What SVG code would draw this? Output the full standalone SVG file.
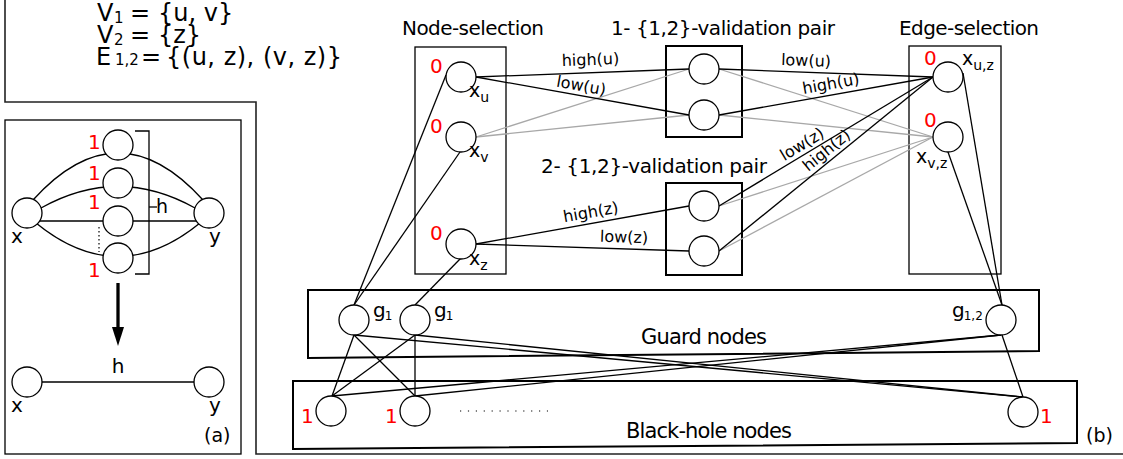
<svg xmlns="http://www.w3.org/2000/svg" width="1123" height="459" viewBox="0 0 1123 459">
<style>
.t{font-family:"DejaVu Sans",sans-serif;fill:#000}
.r{font-family:"DejaVu Sans",sans-serif;fill:#ff0000;font-size:20px}
.n{fill:#fff;stroke:#000;stroke-width:1.3}
.k{stroke:#000;stroke-width:1.3;fill:none}
.g{stroke:#a8a8a8;stroke-width:1.3;fill:none}
.b{fill:none;stroke:#000;stroke-width:1.3}
.bb{fill:none;stroke:#000;stroke-width:2}
.lab{font-family:"DejaVu Sans",sans-serif;font-size:16px;fill:#000}
.ti{font-family:"DejaVu Sans",sans-serif;font-size:20px;fill:#000}
.set{font-family:"DejaVu Sans",sans-serif;font-size:24px;fill:#000}
</style>
<rect width="1123" height="459" fill="#fff"/>
<!-- frames -->
<path d="M5,0 V102 H256 V454 H1123" fill="none" stroke="#222" stroke-width="1.6"/>
<!-- top text -->
<g id="sets">
<text class="set" y="21"><tspan x="97">V</tspan><tspan x="114" dy="2" font-size="15">1</tspan><tspan x="130" dy="-2">=</tspan><tspan x="158">{u, v}</tspan></text>
<text class="set" y="43"><tspan x="97">V</tspan><tspan x="114" dy="2" font-size="15">2</tspan><tspan x="130" dy="-2">=</tspan><tspan x="158">{z}</tspan></text>
<text class="set" y="65"><tspan x="96">E</tspan><tspan x="115" font-size="15">1,2</tspan><tspan x="141">=</tspan><tspan x="166" textLength="176" lengthAdjust="spacing">{(u, z), (v, z)}</tspan></text>
</g>
<!-- panel (a) -->
<g id="panel-a">
<rect x="5" y="120" width="236" height="334" class="b"/>
<path class="k" d="M33,200 Q118,106 203,200"/>
<path class="k" d="M41,208 Q118,165 195,208"/>
<path class="k" d="M40,221 H196"/>
<path class="k" d="M36,223 Q118,290 200,223"/>
<line x1="99" y1="227" x2="99" y2="252" stroke="#000" stroke-width="1.2" stroke-dasharray="1.5 2.5"/>
<polyline class="k" points="135,131 149,131 149,274 135,274"/>
<line class="k" x1="149" y1="207" x2="157" y2="207"/>
<text class="t" font-size="19" x="156" y="213">h</text>
<g id="a-n1"><circle class="n" cx="118" cy="145" r="15"/><text class="r" font-size="21" x="88" y="149">1</text></g>
<g id="a-n2"><circle class="n" cx="118" cy="183" r="15"/><text class="r" font-size="21" x="88" y="180">1</text></g>
<g id="a-n3"><circle class="n" cx="118" cy="221" r="15"/><text class="r" font-size="21" x="88" y="209">1</text></g>
<g id="a-n4"><circle class="n" cx="118" cy="258" r="15"/><text class="r" font-size="21" x="88" y="277">1</text></g>
<g id="a-x"><circle class="n" cx="27" cy="213" r="15"/><text class="t" font-size="20" x="11" y="243">x</text></g>
<g id="a-y"><circle class="n" cx="209" cy="213" r="15"/><text class="t" font-size="20" x="209" y="243">y</text></g>
<line x1="118" y1="283" x2="118" y2="330" stroke="#000" stroke-width="3.3"/>
<polygon points="112,327 124,327 118,346" fill="#000"/>
<line class="k" x1="40" y1="382" x2="196" y2="382"/>
<text class="t" font-size="20" x="118" y="373" text-anchor="middle">h</text>
<g id="a-x2"><circle class="n" cx="27" cy="382" r="15"/><text class="t" font-size="20" x="11" y="412">x</text></g>
<g id="a-y2"><circle class="n" cx="209" cy="382" r="15"/><text class="t" font-size="20" x="209" y="412">y</text></g>
<text class="t" font-size="19" x="204" y="442">(a)</text>
</g>
<!-- panel (b) containers -->
<g id="containers">
<rect x="415" y="47" width="91" height="227" class="b"/>
<rect x="909" y="46" width="92" height="228" class="b"/>
<rect x="666" y="46" width="76" height="91" class="bb"/>
<rect x="666" y="183" width="76" height="92" class="bb"/>
<polygon points="308,290 1039,290 1039,351 308,358" class="bb"/>
<polygon points="293,381 1077,381 1077,443 293,449" class="bb"/>
<text class="ti" x="402" y="35" textLength="142" lengthAdjust="spacing">Node-selection</text>
<text class="ti" x="611" y="35" textLength="224" lengthAdjust="spacing">1- {1,2}-validation pair</text>
<text class="ti" x="899" y="35" textLength="140" lengthAdjust="spacing">Edge-selection</text>
<text class="ti" x="541" y="173" textLength="226" lengthAdjust="spacing">2- {1,2}-validation pair</text>
<text class="t" font-size="21" x="641" y="344" textLength="126" lengthAdjust="spacing">Guard nodes</text>
<text class="t" font-size="21" x="626" y="438" textLength="166" lengthAdjust="spacing">Black-hole nodes</text>
<line x1="460" y1="411" x2="548" y2="411" stroke="#000" stroke-width="1.2" stroke-dasharray="1.2 6.7"/>
<text class="t" font-size="19" x="1086" y="442">(b)</text>
</g>
<!-- connectors -->
<g id="connectors">
<g class="g">
<line x1="476" y1="137" x2="689" y2="69"/>
<line x1="476" y1="137" x2="689" y2="115"/>
<line x1="719" y1="69" x2="933" y2="137"/>
<line x1="719" y1="115" x2="933" y2="137"/>
<line x1="719" y1="206" x2="933" y2="137"/>
<line x1="719" y1="251" x2="933" y2="137"/>
</g>
<g class="k">
<line x1="476" y1="77" x2="689" y2="69"/>
<line x1="476" y1="77" x2="689" y2="115"/>
<line x1="719" y1="69" x2="933" y2="77"/>
<line x1="719" y1="115" x2="933" y2="77"/>
<line x1="476" y1="244" x2="689" y2="206"/>
<line x1="476" y1="244" x2="689" y2="251"/>
<line x1="719" y1="206" x2="933" y2="77"/>
<line x1="719" y1="251" x2="933" y2="77"/>
<line x1="446" y1="75" x2="354" y2="305"/>
<line x1="460" y1="152" x2="354" y2="305"/>
<line x1="461" y1="258" x2="415" y2="305"/>
<line x1="963" y1="73" x2="1002" y2="305"/>
<line x1="948" y1="152" x2="1002" y2="305"/>
<line x1="1002" y1="335" x2="1023" y2="397"/>
<line x1="354" y1="335" x2="332" y2="396"/>
<line x1="354" y1="335" x2="415" y2="396"/>
<line x1="354" y1="335" x2="1023" y2="397"/>
<line x1="415" y1="335" x2="332" y2="396"/>
<line x1="415" y1="335" x2="415" y2="396"/>
<line x1="415" y1="335" x2="1023" y2="397"/>
<line x1="1001" y1="335" x2="332" y2="396"/>
<line x1="1001" y1="335" x2="415" y2="396"/>
</g>
<text class="lab" transform="translate(590.5,60.5) rotate(-2.2)" x="0" y="4.5" text-anchor="middle">high(u)</text>
<text class="lab" transform="translate(581,86.5) rotate(10.1)" x="0" y="4.5" text-anchor="middle">low(u)</text>
<text class="lab" transform="translate(806,61.5) rotate(2.1)" x="0" y="4.5" text-anchor="middle">low(u)</text>
<text class="lab" transform="translate(831,84.5) rotate(-10.1)" x="0" y="4.5" text-anchor="middle">high(u)</text>
<text class="lab" transform="translate(591,213) rotate(-10.1)" x="0" y="4.5" text-anchor="middle">high(z)</text>
<text class="lab" transform="translate(624,238) rotate(1.9)" x="0" y="4.5" text-anchor="middle">low(z)</text>
<text class="lab" transform="translate(802.5,145) rotate(-31.1)" x="0" y="4.5" text-anchor="middle">low(z)</text>
<text class="lab" transform="translate(827,151) rotate(-39.1)" x="0" y="4.5" text-anchor="middle">high(z)</text>
</g>
<!-- nodes -->
<g id="x_u"><circle class="n" cx="461" cy="77" r="15"/><text class="r" x="430" y="73">0</text><text class="t" font-size="19" x="469" y="97">x<tspan font-size="14" dy="5">u</tspan></text></g>
<g id="x_v"><circle class="n" cx="461" cy="137" r="15"/><text class="r" x="430" y="133">0</text><text class="t" font-size="19" x="469" y="157">x<tspan font-size="14" dy="5">v</tspan></text></g>
<g id="x_z"><circle class="n" cx="461" cy="244" r="15"/><text class="r" x="430" y="240">0</text><text class="t" font-size="19" x="469" y="265">x<tspan font-size="14" dy="5">z</tspan></text></g>
<g id="vp1a"><circle class="n" cx="704" cy="69" r="15"/></g>
<g id="vp1b"><circle class="n" cx="704" cy="115" r="15"/></g>
<g id="vp2a"><circle class="n" cx="704" cy="206" r="15"/></g>
<g id="vp2b"><circle class="n" cx="704" cy="251" r="15"/></g>
<g id="x_uz"><circle class="n" cx="948" cy="77" r="15"/><text class="r" x="924" y="65">0</text><text class="t" font-size="19" x="962" y="65">x<tspan font-size="14" dy="5">u,z</tspan></text></g>
<g id="x_vz"><circle class="n" cx="948" cy="137" r="15"/><text class="r" x="924" y="127">0</text><text class="t" font-size="19" x="916" y="163">x<tspan font-size="14" dy="5">v,z</tspan></text></g>
<g id="g1a"><circle class="n" cx="354" cy="320" r="15"/><text class="t" font-size="20" x="373" y="317">g<tspan font-size="12" dy="3" dx="-1">1</tspan></text></g>
<g id="g1b"><circle class="n" cx="415" cy="320" r="15"/><text class="t" font-size="20" x="434" y="317">g<tspan font-size="12" dy="3" dx="-1">1</tspan></text></g>
<g id="g12"><circle class="n" cx="1001" cy="320" r="15"/><text class="t" font-size="20" x="952" y="317">g<tspan font-size="12" dy="3" dx="-1">1,2</tspan></text></g>
<g id="bh1"><circle class="n" cx="331" cy="411" r="15"/><text class="r" x="301" y="423">1</text></g>
<g id="bh2"><circle class="n" cx="415" cy="411" r="15"/><text class="r" x="385" y="423">1</text></g>
<g id="bh3"><circle class="n" cx="1023" cy="412" r="15"/><text class="r" x="1040" y="423">1</text></g>
</svg>
